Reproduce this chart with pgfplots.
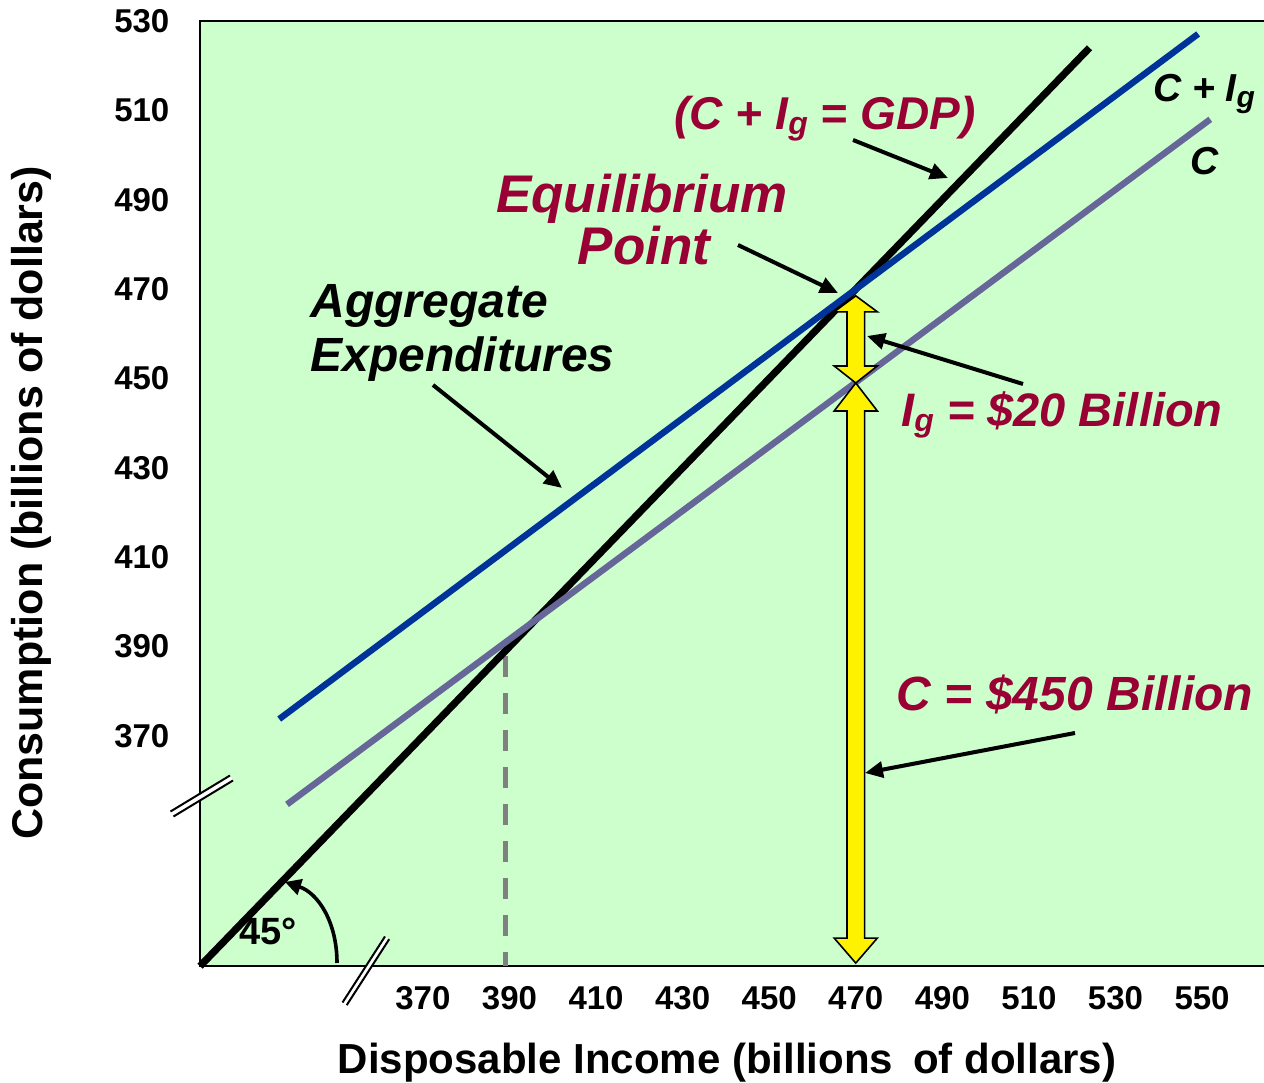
\documentclass[border=0pt]{standalone}
\usepackage{fontspec}
\setmainfont{Liberation Sans}
\usepackage{pgfplots}
\pgfplotsset{compat=1.18}
\usetikzlibrary{arrows.meta,calc}
\definecolor{bggreen}{HTML}{CCFFCC}
\definecolor{aeblue}{HTML}{003399}
\definecolor{cline}{HTML}{666699}
\definecolor{darkred}{HTML}{990033}
\definecolor{dashgray}{HTML}{808080}
\newcommand{\yarrow}[4]{%
 \draw[fill=yellow, line width=0.8pt, line join=miter]
  (#1) -- ($(#1)+(10.8pt,-#3)$) -- ($(#1)+(4.4pt,-#3)$) -- ($(#2)+(4.4pt,#4)$) -- ($(#2)+(10.8pt,#4)$) -- (#2) -- ($(#2)+(-10.8pt,#4)$) -- ($(#2)+(-4.4pt,#4)$) -- ($(#1)+(-4.4pt,-#3)$) -- ($(#1)+(-10.8pt,-#3)$) -- cycle;}
\begin{document}
\begin{tikzpicture}
\begin{axis}[
  at={(0,0)}, anchor=south west,
  scale only axis, width=535pt, height=472.6pt,
  xmin=318.5, xmax=565.7, ymin=318.5, ymax=530,
  axis background/.style={fill=bggreen},
  axis line style={line width=1.3pt},
  xtick={370,390,...,550}, ytick={370,390,...,530},
  major tick length=0pt,
  tick label style={font=\fontsize{16.5}{19}\selectfont\bfseries},
  /pgf/number format/assume math mode=true,
  xticklabel style={yshift=-6.5pt},
  yticklabel style={xshift=-11.8pt},
  clip=false,
]
\addplot[dashgray, line width=2.5pt, dash pattern=on 10.5pt off 8pt] coordinates {(389,387.9) (389,318.5)};
\addplot[black, line width=3.6pt] coordinates {(318.5,318.5) (524,524)};
\addplot[cline, line width=3.2pt] coordinates {(338.6,354.7) (551.9,508.0)};
\addplot[aeblue, line width=3.2pt] coordinates {(336.8,373.8) (549.1,527.1)};
\coordinate (eqT) at (axis cs:470,468.5);
\coordinate (eqM) at (axis cs:470,449);
\coordinate (eqB) at (axis cs:470,319.2);
\coordinate (NW) at (rel axis cs:0,1);
\end{axis}
\yarrow{eqT}{eqM}{8pt}{8.5pt}
\yarrow{eqM}{eqB}{14pt}{12.5pt}
\coordinate (TL) at ($(NW)+(-100pt,10.5pt)$);
\begin{scope}[shift={(TL)}, x=0.5pt, y=-0.5pt]
 % axis breaks
 \fill[white] (170.5,811.5) -- (230,775.5) -- (233,780.5) -- (173.5,816.5) -- cycle;
 \draw[line width=1pt] (170.5,811.5) -- (230,775.5) (173.5,816.5) -- (233,780.5);
 \fill[white] (342.5,1002.5) -- (385,936.5) -- (389.2,939.2) -- (346.7,1005.2) -- cycle;
 \draw[line width=1pt] (342.5,1002.5) -- (385,936.5) (346.7,1005.2) -- (389.2,939.2);
 % 45 degree arc
 \draw[line width=1.8pt, -{Triangle[length=8pt,width=8pt]}] (337,963) .. controls (337,922) and (318,893) .. (285,882);
 \node[anchor=base, inner sep=0, font=\fontsize{19}{22}\selectfont\bfseries] at (268,945) {45°};
 % annotation arrows
 \begin{scope}[line width=2pt, -{Triangle[length=9pt,width=8pt]}]
  \draw (853,140) -- (948,178);
  \draw (738,245) -- (838,293);
  \draw (433,385) -- (562,488);
  \draw (1023,384) -- (867,336);
  \draw (1075,733) -- (865,773);
 \end{scope}
 % red labels
 \begin{scope}[every node/.style={inner sep=0, text=darkred}]
  \node[anchor=base, font=\fontsize{23}{27}\selectfont\bfseries\itshape] at (825,130) {(C + I\raisebox{-2.5pt}{\fontsize{16}{16}\selectfont g} = GDP)};
  \node[anchor=base, font=\fontsize{26.5}{30}\selectfont\bfseries\itshape] at (642,213) {Equilibrium};
  \node[anchor=base, font=\fontsize{26.5}{30}\selectfont\bfseries\itshape] at (644,265) {Point};
  \node[anchor=base, font=\fontsize{23.5}{27}\selectfont\bfseries\itshape] at (1062,427) {I\raisebox{-2.5pt}{\fontsize{16}{16}\selectfont g} = \$20 Billion};
  \node[anchor=base, font=\fontsize{24}{27}\selectfont\bfseries\itshape] at (1075,711) {C = \$450 Billion};
 \end{scope}
 % black labels
 \begin{scope}[every node/.style={inner sep=0}]
  \node[anchor=base west, font=\fontsize{24}{27}\selectfont\bfseries\itshape] at (310,318) {Aggregate};
  \node[anchor=base west, font=\fontsize{24}{27}\selectfont\bfseries\itshape] at (310,372) {Expenditures};
  \node[anchor=base, font=\fontsize{19.5}{22}\selectfont\bfseries\itshape] at (1204,102) {C + I\raisebox{-3pt}{\fontsize{15}{15}\selectfont g}};
  \node[anchor=base, font=\fontsize{19.5}{22}\selectfont\bfseries\itshape] at (1205,175) {C};
  \node[anchor=base, font=\fontsize{21}{24}\selectfont\bfseries] at (727,1073) {Disposable Income (billions\hspace{0.2em} of dollars)};
  \node[anchor=base, rotate=90, font=\fontsize{21.5}{24}\selectfont\bfseries] at (43,503) {Consumption (billions of dollars)};
 \end{scope}
\end{scope}
\pgfresetboundingbox
\path (TL) rectangle ($(TL)+(632pt,-541pt)$);
\end{tikzpicture}
\end{document}
